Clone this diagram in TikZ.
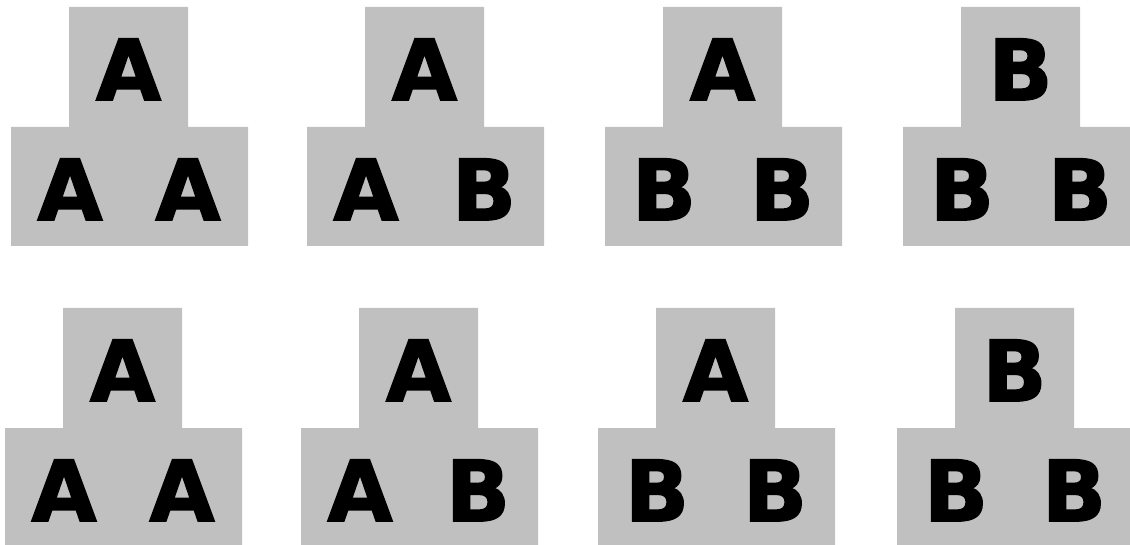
\documentclass[tikz,border=0pt]{standalone}
\usepackage{fontspec}
\setmainfont{DejaVu Sans}
\newfontfamily\heavyfont{DejaVu Sans}[UprightFont={* Bold}, FakeBold=2]
\usepackage{tikz}
\usetikzlibrary{positioning}

\definecolor{blockgray}{RGB}{192,192,192}
\tikzset{
    letter/.style={inner sep=0pt, anchor=base, font=\fontsize{84}{84}\selectfont\heavyfont},
    block/.style={fill=blockgray, draw=none}
}

\begin{document}
\begin{tikzpicture}[x=1pt, y=-1pt]
    \useasboundingbox (0, 0) rectangle (1130, 545);

    % one stepped block per case: x0/y0/top/left/right/name
    \foreach \xo/\yo/\tp/\lf/\rt/\n in {
        11/7/A/A/A/a, 307/7/A/A/B/b, 605/7/A/B/B/c, 903/7/B/B/B/d,
        5/308/A/A/A/e, 301/308/A/A/B/f, 598/308/A/B/B/g, 897/308/B/B/B/h} {
        \fill[block] (\xo+58, \yo) -- (\xo+177, \yo) -- (\xo+177, \yo+120)
            -- (\xo+237, \yo+120) -- (\xo+237, \yo+239) -- (\xo, \yo+239)
            -- (\xo, \yo+120) -- (\xo+58, \yo+120) -- cycle;
        \node[letter] (top-\n) at (\xo+117.5, \yo+93) {\tp};
        \node[letter] (left-\n) at (\xo+59, \yo+213) {\lf};
        \node[letter] (right-\n) at (\xo+177, \yo+213) {\rt};
    }
\end{tikzpicture}
\end{document}
